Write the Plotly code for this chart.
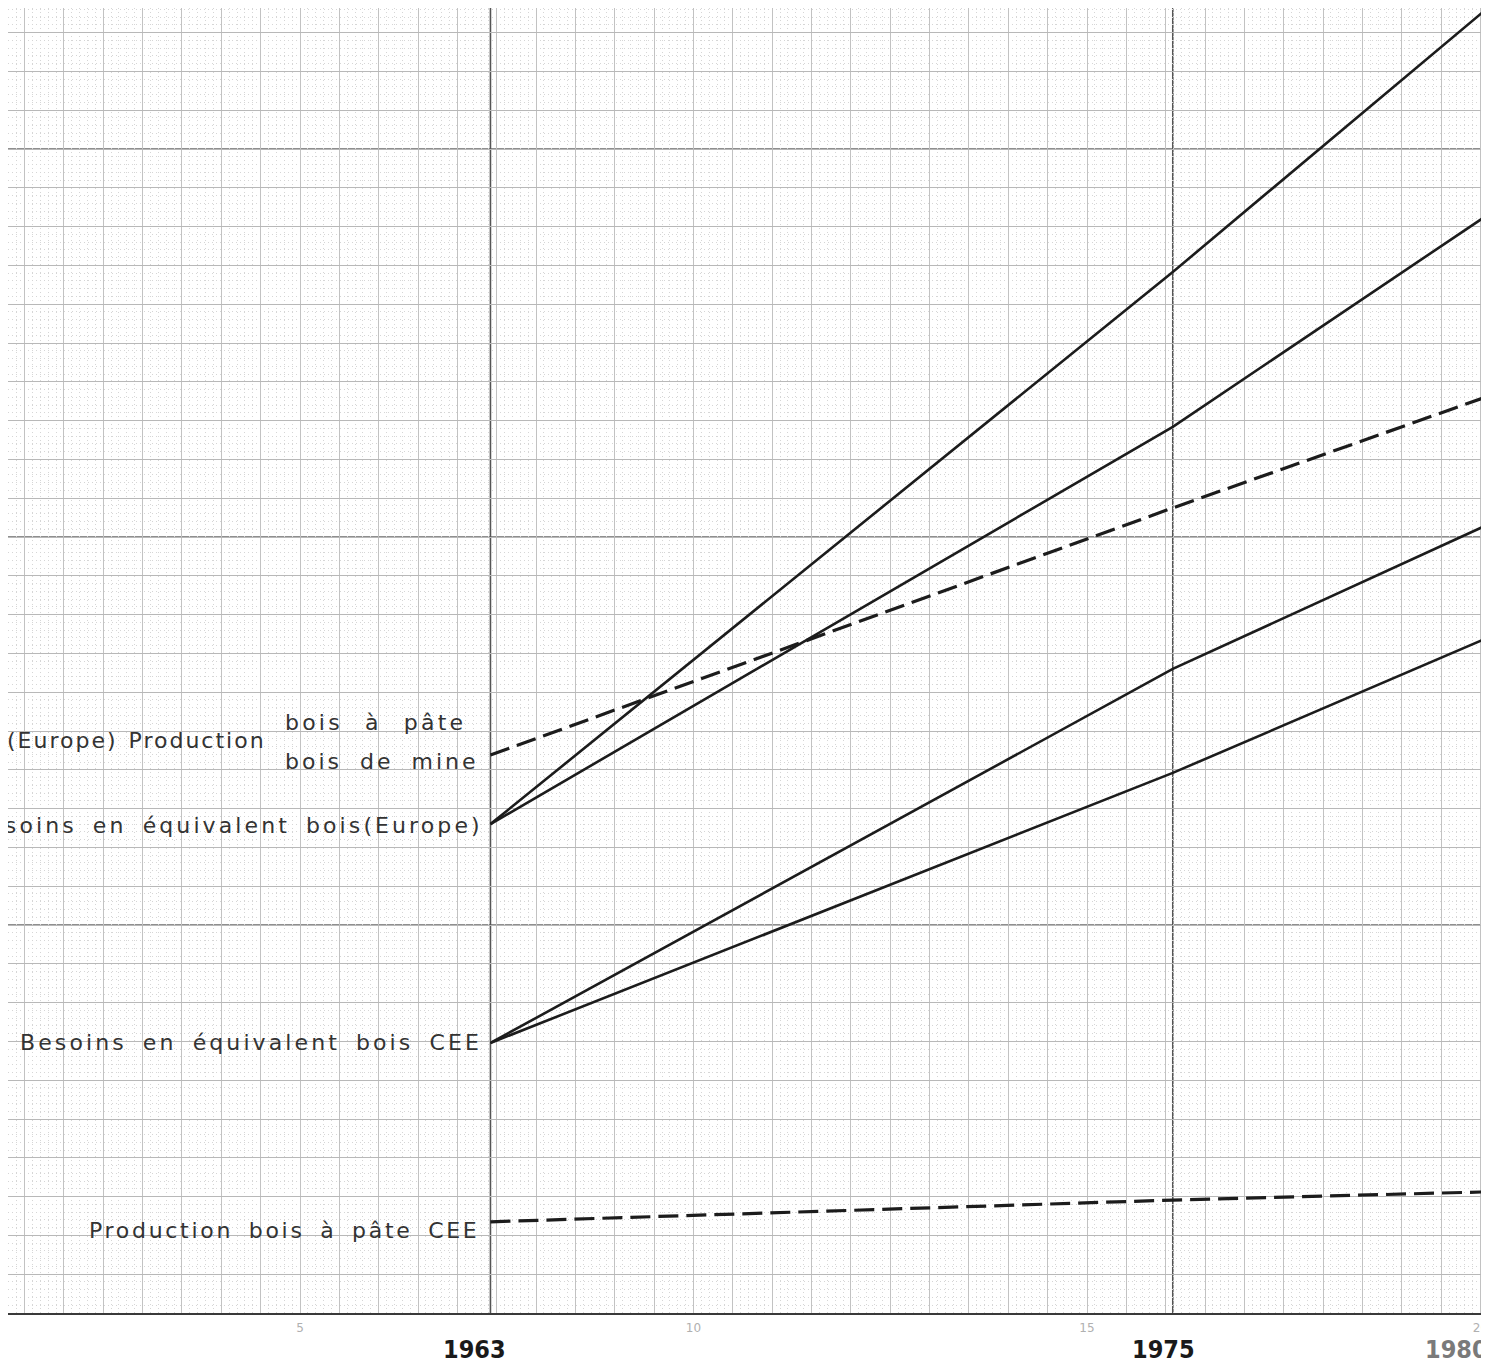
import plotly.graph_objects as go
import numpy as np

# ---- data (graph-paper units) ----
year_labels = ["1963", "1975", "1980"]
year_pos = [7.42, 16.09, 20.03]          # position of each year on the paper's x scale

besoins_europe_haut = [12.60, 26.83, 33.53]
besoins_europe_bas = [12.60, 22.84, 28.22]
production_europe = [14.38, 20.75, 23.58]
besoins_cee_haut = [6.96, 16.60, 20.26]
besoins_cee_bas = [6.96, 13.92, 17.35]
production_cee = [2.35, 2.91, 3.12]

paper_ticks = [5, 10, 15, 20]
strong_rows = [10, 20, 30]

# ---- geometry (page pixels; the browser page has an 8px body margin) ----
OFF = 8
PAGE_W, PAGE_H = 1489, 1366
W, H = PAGE_W - OFF, PAGE_H - OFF
ML, MR, MT, MB = 0, 6, 0, 53
PW, PH = W - ML - MR, H - MT - MB


def ux(px):           # page x pixel -> paper unit
    return 5 + (px - 300) / 78.7


def uy(py):           # page y pixel -> paper unit
    return (1313 - py) / 38.8


X0, X1 = ux(OFF + ML), ux(OFF + ML + PW)
Y0, Y1 = uy(OFF + MT + PH), uy(OFF + MT)


def pxp(xpix):
    return (xpix - OFF - ML) / PW


def pyp(ypix):
    return 1 - (ypix - OFF - MT) / PH


INK = "#1c1c1c"
fig = go.Figure()

solid = [besoins_europe_haut, besoins_europe_bas, besoins_cee_haut, besoins_cee_bas]
dashed = [production_europe, production_cee]
names_solid = ["Besoins Europe (haut)", "Besoins Europe (bas)", "Besoins CEE (haut)", "Besoins CEE (bas)"]
names_dashed = ["Production Europe", "Production CEE"]

for nm, s in zip(names_solid, solid):
    fig.add_trace(go.Scatter(x=year_pos, y=s, mode="lines", name=nm,
                             line=dict(color=INK, width=2.6), showlegend=False,
                             hoverinfo="skip"))
for nm, s in zip(names_dashed, dashed):
    fig.add_trace(go.Scatter(x=year_pos, y=s, mode="lines", name=nm,
                             line=dict(color=INK, width=3.2, dash="20px,8px"),
                             showlegend=False, hoverinfo="skip"))

# x ticks every half unit (grid), labels only on multiples of 5
xt = np.arange(1.5, 20.01, 0.5)
xtext = [str(int(round(v))) if (abs(v - round(v)) < 1e-9 and int(round(v)) in paper_ticks) else "" for v in xt]

fig.update_xaxes(range=[X0, X1], tickmode="array", tickvals=list(xt), ticktext=xtext,
                 showgrid=True, gridcolor="#c2c2c2", gridwidth=1,
                 minor=dict(tickmode="linear", tick0=0, dtick=0.1, showgrid=True,
                            gridcolor="#d6d6d6", gridwidth=1, griddash="1px,3px"),
                 zeroline=False, showline=True, linecolor="#3a3a3a", linewidth=2,
                 ticks="", tickfont=dict(family="DejaVu Sans", size=12, color="#b0b0b0"),
                 ticklabelstandoff=3, fixedrange=True)
fig.update_yaxes(range=[Y0, Y1], tickmode="linear", tick0=0, dtick=1,
                 showgrid=True, gridcolor="#b8b8b8", gridwidth=1,
                 minor=dict(tickmode="linear", tick0=0, dtick=0.2, showgrid=True,
                            gridcolor="#d6d6d6", gridwidth=1, griddash="1px,3px"),
                 zeroline=False, showline=False, showticklabels=False, ticks="",
                 fixedrange=True)

shapes = []
for r in strong_rows:
    shapes.append(dict(type="line", xref="paper", yref="y", x0=0, x1=1, y0=r, y1=r,
                       line=dict(color="#6a6a6a", width=1.6), layer="below"))
for xp in year_pos[:2]:
    shapes.append(dict(type="line", xref="x", yref="paper", x0=xp, x1=xp, y0=0, y1=1,
                       line=dict(color="#555555", width=1.6), layer="below"))

TXT = "#333333"
FONT = "DejaVu Sans"


def sp(text, ls, ws):
    return f'<span style="letter-spacing:{ls}px;word-spacing:{ws}px">{text}</span>'


labels = [
    ("(Europe) Production", 5, 740, "left", 2.0, 2),
    ("bois à pâte", 283, 722, "left", 3.2, 12),
    ("bois de mine", 283, 762, "left", 3.0, 8),
    ("Besoins en équivalent bois(Europe)", 485, 825, "right", 3.1, 6),
    ("Besoins en équivalent bois CEE", 484, 1042, "right", 3.1, 6),
    ("Production bois à pâte CEE", 481, 1230, "right", 2.7, 6),
]
annotations = []
for t, x, y, anc, ls, ws in labels:
    annotations.append(dict(text=sp(t, ls, ws), xref="paper", yref="paper",
                            x=pxp(x), y=pyp(y), xanchor=anc, yanchor="middle",
                            showarrow=False, font=dict(family=FONT, size=22, color=TXT)))

year_shift = [-16, -9, -26]
year_color = ["#1a1a1a", "#1a1a1a", "#7a7a7a"]
for lab, xp, dx, c in zip(year_labels, year_pos, year_shift, year_color):
    annotations.append(dict(text=f"<b>{lab}</b>", xref="x", yref="paper", x=xp, y=pyp(1349),
                            xshift=dx, xanchor="center", yanchor="middle", showarrow=False,
                            font=dict(family="Liberation Sans Narrow, DejaVu Sans Condensed, Roboto",
                                      size=25, color=c)))

fig.update_layout(width=W, height=H, margin=dict(l=ML, r=MR, t=MT, b=MB, pad=0),
                  paper_bgcolor="white", plot_bgcolor="white",
                  shapes=shapes, annotations=annotations, showlegend=False)

fig.write_html("out.html", config={"displayModeBar": False})
